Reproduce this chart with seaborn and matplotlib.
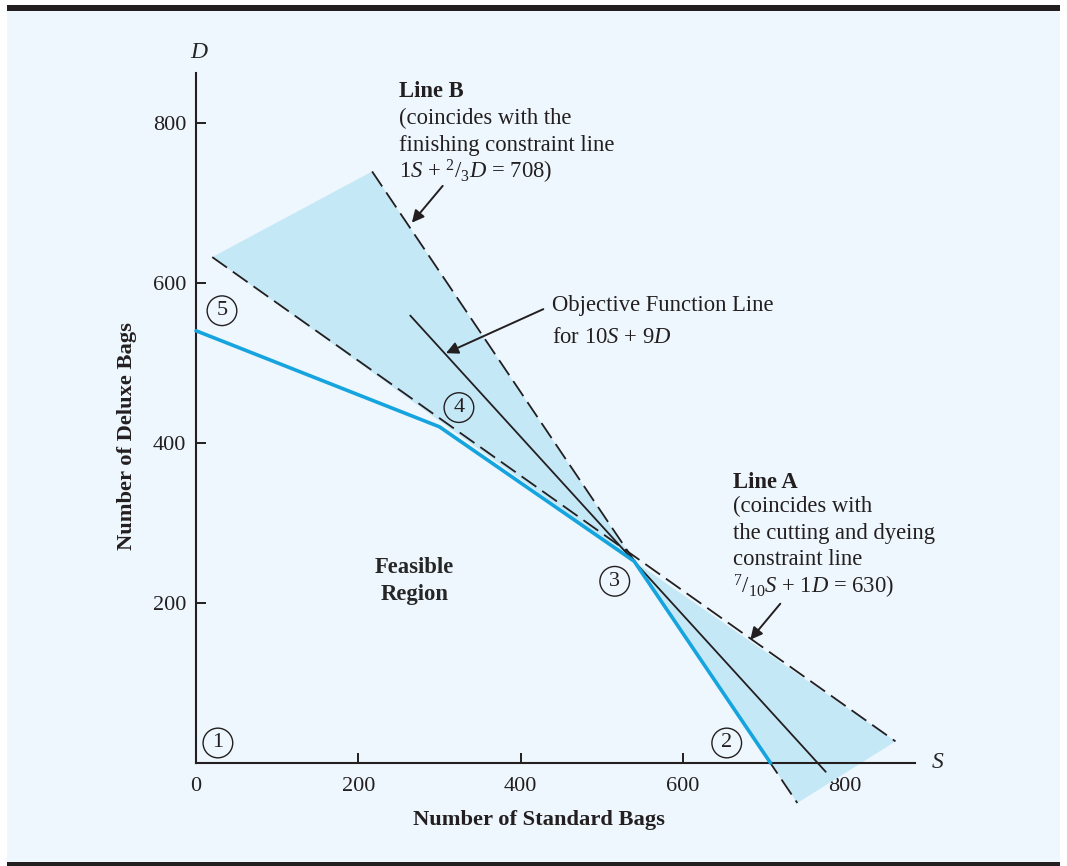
import matplotlib
matplotlib.use("Agg")
import matplotlib.pyplot as plt
import seaborn as sns
import pandas as pd
from matplotlib.patches import Rectangle

# data
tick_vals = [0, 200, 400, 600, 800]

# boundary of the feasible region (points 5, 4, 3, 2)
edge_S = [0, 300, 540, 708]
edge_D = [540, 420, 252, 0]

# Line A: 7/10 S + 1 D = 630
lineA_S = [20, 862]
lineA_D = [632, 27]

# Line B: 1 S + 2/3 D = 708
lineB_S = [217, 741]
lineB_D = [739, -50]

# objective function line 10S + 9D through point 3
obj_S = [264, 776]
obj_D = [559, -11]

# shaded wedges between line A and line B
wedge_up_S = [20, 217, 540]
wedge_up_D = [632, 739, 252]
wedge_lo_S = [540, 741, 862]
wedge_lo_D = [252, -50, 27]

# numbered extreme points (label positions)
pt_labels = ["1", "2", "3", "4", "5"]
pt_S = [27, 654, 516, 324, 32]
pt_D = [25, 25, 227, 444, 565]

BLACK = "#231f20"
BLUE = "#16a4de"
SHADE = "#c5e8f7"
PANEL = "#eef7fd"

sns.set_style("ticks")
plt.rcParams["font.family"] = ["Liberation Serif", "DejaVu Serif"]
plt.rcParams["mathtext.fontset"] = "custom"
plt.rcParams["mathtext.rm"] = "Liberation Serif"
plt.rcParams["mathtext.it"] = "Liberation Serif:italic"
plt.rcParams["mathtext.bf"] = "Liberation Serif:bold"

W, H = 1067, 866
fig = plt.figure(figsize=(W / 100, H / 100), dpi=100)
fig.patch.set_facecolor("white")

# panel background and the two dark rules
fig.add_artist(Rectangle((7 / W, 0), 1053 / W, 861 / H, transform=fig.transFigure,
                         facecolor=PANEL, edgecolor="none", zorder=-10))
fig.add_artist(Rectangle((7 / W, 855 / H), 1053 / W, 6 / H, transform=fig.transFigure,
                         facecolor=BLACK, edgecolor="none", zorder=-9))
fig.add_artist(Rectangle((7 / W, 0), 1053 / W, 4 / H, transform=fig.transFigure,
                         facecolor=BLACK, edgecolor="none", zorder=-9))

ax = fig.add_axes([196 / W, 1 - 763 / H, 719 / W, 690 / H])
ax.patch.set_visible(False)
ax.set_xlim(0, 886)
ax.set_ylim(0, 862)

# shading
ax.fill(wedge_up_S, wedge_up_D, color=SHADE, lw=0, clip_on=False, zorder=1)
ax.fill(wedge_lo_S, wedge_lo_D, color=SHADE, lw=0, clip_on=False, zorder=1)

dash = (0, (10, 4))
ax.plot(lineA_S, lineA_D, color=BLACK, lw=1.3, ls=dash, clip_on=False, zorder=3)
ax.plot(lineB_S, lineB_D, color=BLACK, lw=1.3, ls=dash, clip_on=False, zorder=3)

obj = pd.DataFrame({"S": obj_S, "D": obj_D})
sns.lineplot(data=obj, x="S", y="D", sort=False, color=BLACK, lw=1.3, ax=ax,
             zorder=3, clip_on=False)

edge = pd.DataFrame({"S": edge_S, "D": edge_D})
sns.lineplot(data=edge, x="S", y="D", sort=False, color=BLUE, lw=2.6, ax=ax,
             zorder=4, clip_on=False)

# numbered circles
for lab, s, d in zip(pt_labels, pt_S, pt_D):
    ax.text(s, d, lab, ha="center", va="center", fontsize=16, color=BLACK,
            zorder=5, bbox=dict(boxstyle="circle,pad=0.24", fc="none", ec=BLACK, lw=1.0))

# annotations
FS = 16.3
txt = dict(fontsize=FS, color=BLACK, va="center", ha="left")
ax.text(250, 839, "Line B", fontweight="bold", **txt)
ax.text(250, 805, "(coincides with the", **txt)
ax.text(250, 772, "finishing constraint line", **txt)
ax.text(250, 739, r"1$S$ + $^{2}$/$_{3}$$D$ = 708)", **txt)

ax.text(439, 571, "Objective Function Line", **txt)
ax.text(439, 532, r"for 10$S$ + 9$D$", **txt)

ax.text(662, 351, "Line A", fontweight="bold", **txt)
ax.text(662, 320, "(coincides with", **txt)
ax.text(662, 287, "the cutting and dyeing", **txt)
ax.text(662, 254, "constraint line", **txt)
ax.text(662, 220, r"$^{7}$/$_{10}$$S$ + 1$D$ = 630)", **txt)

ax.text(269, 244, "Feasible", fontweight="bold", fontsize=FS, ha="center", va="center")
ax.text(269, 210, "Region", fontweight="bold", fontsize=FS, ha="center", va="center")

arrow = dict(arrowstyle="-|>", color=BLACK, lw=1.4, mutation_scale=18, shrinkA=0, shrinkB=0)
ax.annotate("", xy=(266, 675), xytext=(304, 721), arrowprops=arrow, zorder=5)
ax.annotate("", xy=(308, 512), xytext=(428, 567), arrowprops=arrow, zorder=5)
ax.annotate("", xy=(683, 154), xytext=(720, 199), arrowprops=arrow, zorder=5)

# axis letters
ax.text(4, 887, "$D$", fontsize=17, ha="center", va="center")
ax.text(914, 0, "$S$", fontsize=17, ha="center", va="center")

# axes styling
for side in ["top", "right"]:
    ax.spines[side].set_visible(False)
for side in ["left", "bottom"]:
    ax.spines[side].set_color(BLACK)
    ax.spines[side].set_linewidth(1.5)
ax.set_xticks(tick_vals)
ax.set_xticklabels([str(v) for v in tick_vals])
ax.set_yticks(tick_vals[1:])
ax.set_yticklabels([str(v) for v in tick_vals[1:]])
ax.tick_params(axis="x", direction="in", length=7, width=1.4, color=BLACK,
               labelsize=16, pad=10, labelcolor=BLACK)
ax.tick_params(axis="y", direction="in", length=7, width=1.4, color=BLACK,
               labelsize=16, pad=7, labelcolor=BLACK)
ax.set_xlabel("")
ax.set_ylabel("")

fig.text(539 / W, 1 - 820 / H, "Number of Standard Bags", fontsize=16.2,
         fontweight="bold", ha="center", va="center", color=BLACK)
fig.text(127 / W, 1 - 436 / H, "Number of Deluxe Bags", fontsize=16.2,
         fontweight="bold", ha="center", va="center", rotation=90, color=BLACK)

fig.savefig("out.png", dpi=100, facecolor=fig.get_facecolor())
